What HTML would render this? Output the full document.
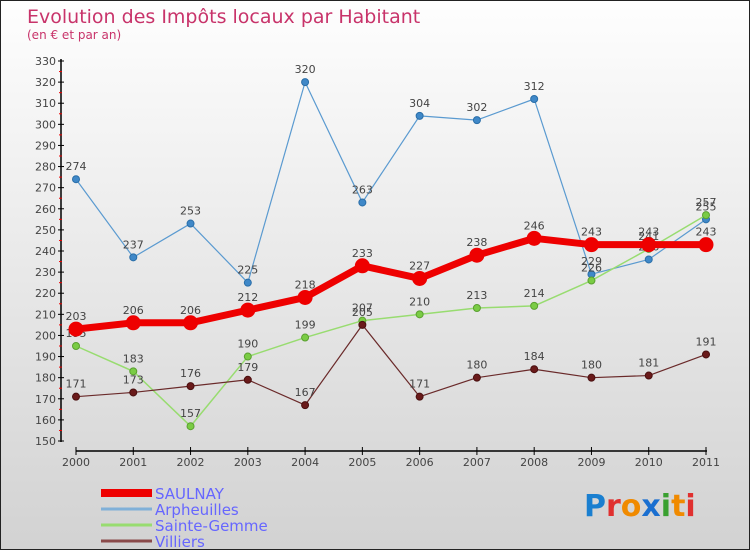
<!DOCTYPE html>
<html><head><meta charset="utf-8"><style>
body{margin:0}
#c{width:748px;height:548px;border:1px solid #222;background:linear-gradient(#fefefe,#d2d2d2);position:relative;overflow:hidden;font-family:"DejaVu Sans","Liberation Sans",sans-serif}
</style></head><body>
<div id="c">
<svg id="s" width="748" height="548">
<text x="26" y="22" font-size="19" fill="#c8336a">Evolution des Impôts locaux par Habitant</text>
<text x="26" y="38" font-size="12" fill="#c8336a">(en € et par an)</text>
<g id="axes"></g><g id="series"></g><g id="legend"></g>
<text x="583" y="515" font-size="30" font-family="'DejaVu Sans',sans-serif" font-weight="bold"><tspan fill="#1a7fd0">P</tspan><tspan fill="#e0302f">r</tspan><tspan fill="#f08a00">o</tspan><tspan fill="#1a6fd0">x</tspan><tspan fill="#3aa030">i</tspan><tspan fill="#f08a00">t</tspan><tspan fill="#e0302f">i</tspan></text>
</svg></div>
<script>
const years=[2000,2001,2002,2003,2004,2005,2006,2007,2008,2009,2010,2011];
const saulnay=[203,206,206,212,218,233,227,238,246,243,243,243];
const arpheuilles=[274,237,253,225,320,263,304,302,312,229,236,255];
const sainteGemme=[195,183,157,190,199,207,210,213,214,226,241,257];
const villiers=[171,173,176,179,167,205,171,180,184,180,181,191];
const yTicks=[150,160,170,180,190,200,210,220,230,240,250,260,270,280,290,300,310,320,330];
const NS="http://www.w3.org/2000/svg";
const X=i=>75+i*(705-75)/11;
const Y=v=>440-(v-150)*(380/180);
function mk(t,a,p){const e=document.createElementNS(NS,t);for(const k in a)e.setAttribute(k,a[k]);p.appendChild(e);return e;}
const ax=document.getElementById('axes');
let l=mk('line',{x1:60,y1:58,x2:60,y2:441,stroke:'#000','stroke-width':1.5},ax);


l=mk('line',{x1:75,y1:450,x2:706,y2:450,stroke:'#000','stroke-width':1.5},ax);


yTicks.forEach((v,i)=>{
 mk('line',{x1:57,y1:Y(v),x2:63,y2:Y(v),stroke:'#000'},ax);
 if(i<yTicks.length-1) mk('line',{x1:58,y1:Y(v+5),x2:61,y2:Y(v+5),stroke:'#e00'},ax);
 const t=mk('text',{x:55,y:Y(v)+4,'font-size':11,fill:'#444','text-anchor':'end'},ax);t.textContent=v;
 
 
});
years.forEach((y,i)=>{
 mk('line',{x1:X(i),y1:446,x2:X(i),y2:454,stroke:'#000'},ax);
 const t=mk('text',{x:X(i),y:465,'font-size':11,fill:'#444','text-anchor':'middle'},ax);t.textContent=y;
 
 
});
const sg=document.getElementById('series');
function series(name,vals,color,w,r,dot,stroke){
 const g=mk('g',{},sg);
 
 
 mk('polyline',{points:vals.map((v,i)=>X(i)+','+Y(v)).join(' '),fill:'none',stroke:color,'stroke-width':w,'stroke-linejoin':'round'},g);
 vals.forEach((v,i)=>{
  const c=mk('circle',{cx:X(i),cy:Y(v),r:r,fill:dot,stroke:stroke,'stroke-width':1},g);
  
  
  const t=mk('text',{x:X(i),y:Y(v)-9,'font-size':11,fill:'#444','text-anchor':'middle'},g);t.textContent=v;
  
  
 });
}
series('arpheuilles',arpheuilles,'#5a9ad0',1.2,3.5,'#3f88c8','#2a6ea8');
series('sainte-gemme',sainteGemme,'#98dc70',1.5,3.5,'#7acc44','#5aa030');
series('villiers',villiers,'#6a2a2a',1.2,3.5,'#6a1a1a','#4a1010');
series('saulnay',saulnay,'#ee0000',7,7,'#ee0000','#ee0000');
const lg=document.getElementById('legend');
[['SAULNAY','#ee0000',8],['Arpheuilles','#80b0d8',3],['Sainte-Gemme','#98dc70',3],['Villiers','#8a4a4a',3]].forEach((d,i)=>{
 const y=492+i*16;
 const g=mk('g',{},lg);
 
 
 mk('rect',{x:100,y:y-d[2]/2,width:51,height:d[2],fill:d[1]},g);
 const t=mk('text',{x:154,y:y+6,'font-size':15,fill:'#6666ff'},g);t.textContent=d[0];
});
</script>
</body></html>
